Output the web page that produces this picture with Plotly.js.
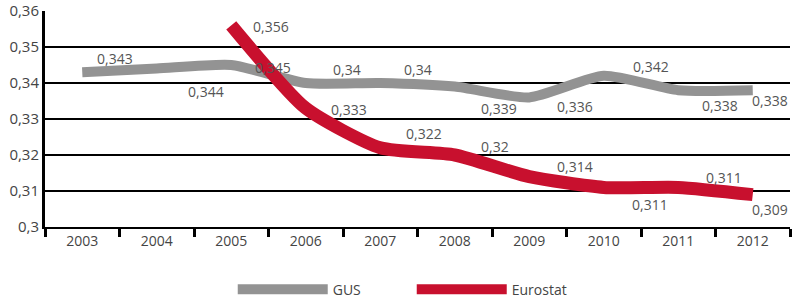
<!DOCTYPE html>
<html>
<head>
<meta charset="utf-8">
<script src="https://cdn.plot.ly/plotly-3.0.1.min.js"></script>
<style>html,body{margin:0;padding:0;background:#fff;}#chart{width:793px;height:298px;}</style>
</head>
<body>
<div id="chart"></div>
<script>
const years = ['2003','2004','2005','2006','2007','2008','2009','2010','2011','2012'];
const gusValues = [0.343, 0.344, 0.345, 0.340, 0.340, 0.339, 0.336, 0.342, 0.338, 0.338];
const eurostatYears = ['2005','2006','2007','2008','2009','2010','2011','2012'];
const eurostatValues = [0.356, 0.333, 0.322, 0.320, 0.314, 0.311, 0.311, 0.309];
const yTicks = [0.30, 0.31, 0.32, 0.33, 0.34, 0.35, 0.36];

// label offsets (px) relative to each point
const gusShift = [[33,14],[49,-23],[42,-2],[41,14],[38,14],[44,-22],[46,-9],[47,9],[42,-15],[17,-10]];
const euroShift = [[40,-1],[43,-1],[44,14],[40,9],[46,10],[46,-17],[46,10],[17,-15]];

const fmt = v => String(+v.toFixed(3)).replace('.', ',');
const labelFont = {family: 'Open Sans, sans-serif', size: 14, color: '#555'};

const annotations = [];
gusValues.forEach((v, i) => annotations.push({
  xref: 'x', yref: 'y',
  x: years.indexOf(years[i]), y: v, text: fmt(v), showarrow: false,
  xshift: gusShift[i][0], yshift: gusShift[i][1], font: labelFont
}));
eurostatValues.forEach((v, i) => annotations.push({
  xref: 'x', yref: 'y',
  x: years.indexOf(eurostatYears[i]), y: v, text: fmt(v), showarrow: false,
  xshift: euroShift[i][0], yshift: euroShift[i][1], font: labelFont
}));

const traces = [
  {x: years, y: gusValues, name: 'GUS', type: 'scatter', mode: 'lines',
   line: {color: '#939393', width: 10, shape: 'spline', smoothing: 0.6}},
  {x: eurostatYears, y: eurostatValues, name: 'Eurostat', type: 'scatter', mode: 'lines',
   line: {color: '#c8102e', width: 13, shape: 'spline', smoothing: 0.6}}
];

const layout = {
  width: 793, height: 298,
  margin: {l: 45, r: 3, t: 11, b: 71, autoexpand: false},
  paper_bgcolor: '#fff', plot_bgcolor: '#fff',
  separators: ', ',
  font: {family: 'Open Sans, sans-serif', size: 14, color: '#444'},
  showlegend: true,
  legend: {orientation: 'h', x: 0.252, xanchor: 'left', y: -0.29, yanchor: 'middle',
           itemwidth: 90, entrywidth: 74, entrywidthmode: 'pixels',
           font: {family: 'Open Sans, sans-serif', size: 14, color: '#444'},
           traceorder: 'normal'},
  xaxis: {type: 'category', categoryarray: years, categoryorder: 'array',
          range: [-0.5, 9.5], showgrid: false, zeroline: false,
          showline: true, linecolor: '#000', linewidth: 2,
          ticks: 'outside', tickson: 'boundaries', ticklen: 8, tickwidth: 3, tickcolor: '#000',
          tickfont: {size: 14, color: '#444'}, fixedrange: true},
  yaxis: {range: [0.3, 0.36], tickvals: yTicks, ticktext: yTicks.map(fmt),
          showgrid: true, gridcolor: '#000', gridwidth: 2, zeroline: false,
          showline: true, linecolor: '#000', linewidth: 3, ticks: '',
          tickfont: {size: 15, color: '#444'}, fixedrange: true},
  annotations: annotations
};

Plotly.newPlot('chart', traces, layout, {staticPlot: true, displayModeBar: false});
</script>
</body>
</html>
